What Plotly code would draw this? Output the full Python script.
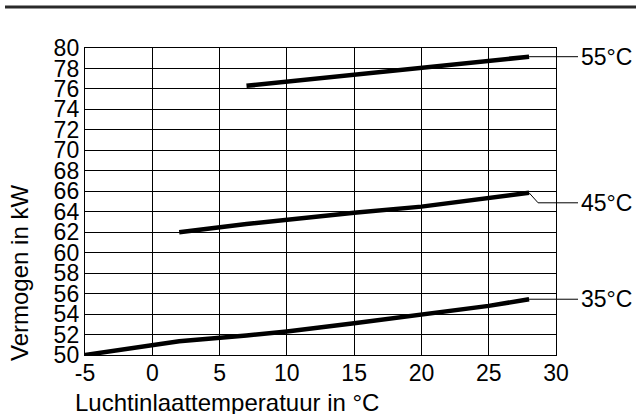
import plotly.graph_objects as go

# Heating capacity vs. air inlet temperature for three flow temperatures
x_55 = [7, 20, 28]
y_55 = [76.3, 78.0, 79.15]

x_45 = [2, 7, 15, 20, 28]
y_45 = [62.0, 62.8, 63.9, 64.5, 65.85]

x_35 = [-5, 0, 2, 7, 10, 15, 20, 25, 28]
y_35 = [50.0, 51.0, 51.35, 51.9, 52.3, 53.1, 53.9, 54.8, 55.45]

series = [
    ("55°C", x_55, y_55),
    ("45°C", x_45, y_45),
    ("35°C", x_35, y_35),
]

x_ticks = [-5, 0, 5, 10, 15, 20, 25, 30]
y_ticks = list(range(50, 81, 2))

X_MIN, X_MAX = -5, 30
Y_MIN, Y_MAX = 50, 80

FONT = "Liberation Sans, Arial, sans-serif"
W, H = 636, 414
M_L, M_R, M_T, M_B = 85, 80, 48, 59
PW = W - M_L - M_R
PH = H - M_T - M_B


def px_x(v):
    return (v - X_MIN) / (X_MAX - X_MIN)


def px_y(v):
    return (v - Y_MIN) / (Y_MAX - Y_MIN)


fig = go.Figure()
for name, xs, ys in series:
    fig.add_trace(go.Scatter(
        x=xs, y=ys, mode="lines", name=name,
        line=dict(color="black", width=4.5),
        showlegend=False, hoverinfo="skip",
    ))

shapes = []
annotations = []
label_x = (579 - M_L) / PW
lead_end = (578 - M_L) / PW
for name, xs, ys in series:
    x0 = px_x(xs[-1])
    y0 = px_y(ys[-1])
    if name == "45°C":
        # kinked leader running down to the label row
        yk = y0 - 10 / PH
        xk = x0 + 9 / PW
        shapes.append(dict(type="path", xref="paper", yref="paper",
                           path=f"M{x0},{y0} L{xk},{yk} L{lead_end},{yk}",
                           line=dict(color="black", width=1)))
        ly = yk
    else:
        shapes.append(dict(type="line", xref="paper", yref="paper",
                           x0=x0, y0=y0, x1=lead_end, y1=y0,
                           line=dict(color="black", width=1)))
        ly = y0
    annotations.append(dict(text=name, xref="paper", yref="paper",
                            x=label_x, y=ly, xanchor="left", yanchor="middle",
                            showarrow=False,
                            font=dict(family=FONT, size=23, color="black")))

# rule across the top of the page
shapes.append(dict(type="line", xref="paper", yref="paper",
                   x0=(5 - M_L) / PW, x1=(W - M_L) / PW,
                   y0=(H - M_B - 7) / PH, y1=(H - M_B - 7) / PH,
                   line=dict(color="#2a2a2a", width=3)))

# axis titles
annotations.append(dict(text="Vermogen in kW", xref="paper", yref="paper",
                        x=(19 - M_L) / PW, y=(H - M_B - 273) / PH,
                        xanchor="center", yanchor="middle", textangle=-90,
                        showarrow=False,
                        font=dict(family=FONT, size=24, color="black")))
annotations.append(dict(text="Luchtinlaattemperatuur in °C", xref="paper", yref="paper",
                        x=(227 - M_L) / PW, y=(H - M_B - 402) / PH,
                        xanchor="center", yanchor="middle",
                        showarrow=False,
                        font=dict(family=FONT, size=24, color="black")))

axis_common = dict(
    showgrid=True, gridcolor="black", gridwidth=1.4,
    showline=True, linecolor="black", linewidth=1.4, mirror=True,
    zeroline=False, ticks="",
    tickfont=dict(family=FONT, size=23, color="black"),
)

fig.update_layout(
    width=W, height=H,
    margin=dict(l=M_L, r=M_R, t=M_T, b=M_B),
    paper_bgcolor="white", plot_bgcolor="white",
    xaxis=dict(range=[X_MIN, X_MAX], tickvals=x_ticks,
               ticktext=[str(v) for v in x_ticks], ticklabelstandoff=-3,
               **axis_common),
    yaxis=dict(range=[Y_MIN, Y_MAX], tickvals=y_ticks,
               ticktext=[str(v) for v in y_ticks], **axis_common),
    shapes=shapes,
    annotations=annotations,
)

fig.write_html("out.html")
